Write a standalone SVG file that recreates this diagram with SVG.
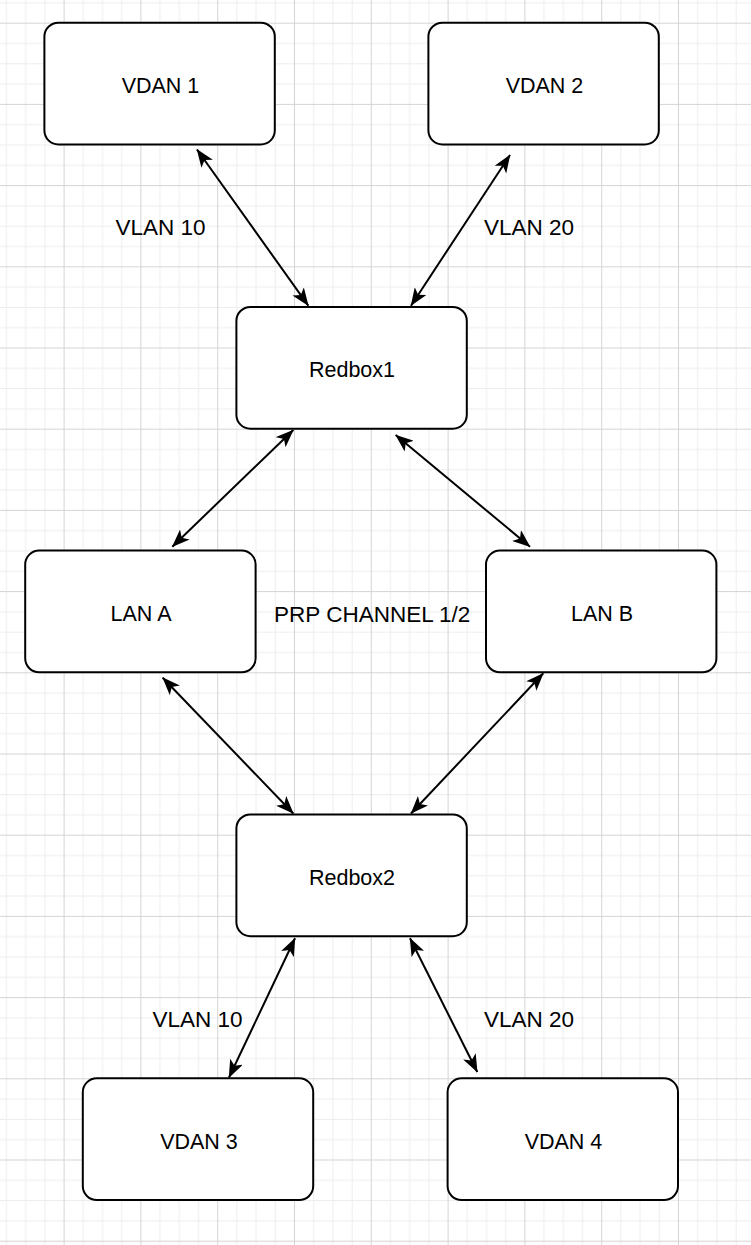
<svg xmlns="http://www.w3.org/2000/svg" width="751" height="1245" viewBox="0 0 751 1245">
  <defs>
    <pattern id="grid" patternUnits="userSpaceOnUse" x="63.6" y="22.7" width="76.8" height="81.2">
      <g stroke="#ededed" stroke-width="1">
        <line x1="19.7" y1="0" x2="19.7" y2="81.2"/>
        <line x1="38.9" y1="0" x2="38.9" y2="81.2"/>
        <line x1="58.1" y1="0" x2="58.1" y2="81.2"/>
        <line x1="0" y1="20.8" x2="76.8" y2="20.8"/>
        <line x1="0" y1="41.1" x2="76.8" y2="41.1"/>
        <line x1="0" y1="61.4" x2="76.8" y2="61.4"/>
      </g>
      <g stroke="#d4d4d4" stroke-width="1">
        <line x1="0.5" y1="0" x2="0.5" y2="81.2"/>
        <line x1="0" y1="0.5" x2="76.8" y2="0.5"/>
      </g>
    </pattern>
    <marker id="arr" viewBox="0 0 18 14" refX="17.5" refY="7" markerWidth="18" markerHeight="14" markerUnits="userSpaceOnUse" orient="auto-start-reverse">
      <path d="M0,0 L18,7 L0,14 L4.5,7 Z" fill="#000"/>
    </marker>
    <style>
      .node rect { fill: #ffffff; stroke: #000000; stroke-width: 2; }
      .node text, .label { font-family: "Liberation Sans", Arial, Helvetica, sans-serif; fill: #000; text-anchor: middle; }
      .node text { font-size: 21.5px; }
      .label { font-size: 22.5px; }
      .edge { stroke: #000; stroke-width: 2; fill: none; marker-start: url(#arr); marker-end: url(#arr); }
    </style>
  </defs>
  <rect x="0" y="0" width="751" height="1245" fill="#ffffff"/>
  <rect x="0" y="0" width="751" height="1245" fill="url(#grid)"/>

  <g id="connectors">
    <line class="edge" x1="197" y1="149.5" x2="308.3" y2="305.7"/>
    <line class="edge" x1="510" y1="155" x2="411" y2="305.7"/>
    <line class="edge" x1="293.3" y1="430" x2="172.3" y2="546.7"/>
    <line class="edge" x1="395.7" y1="435" x2="530" y2="546.7"/>
    <line class="edge" x1="162.7" y1="677.7" x2="293.3" y2="813.5"/>
    <line class="edge" x1="543.3" y1="673.3" x2="411" y2="813.5"/>
    <line class="edge" x1="295" y1="938.3" x2="229" y2="1077.5"/>
    <line class="edge" x1="410" y1="938.3" x2="477.3" y2="1072"/>
  </g>

  <g id="edge-labels">
    <text class="label" x="160.5" y="235">VLAN 10</text>
    <text class="label" x="529" y="235">VLAN 20</text>
    <text class="label" x="372.2" y="621.7">PRP CHANNEL 1/2</text>
    <text class="label" x="197.5" y="1026.7">VLAN 10</text>
    <text class="label" x="529" y="1026.7">VLAN 20</text>
  </g>

  <g id="vdan1" class="node">
    <rect x="44.4" y="22.7" width="230.4" height="121.8" rx="14" ry="14"/>
    <text x="160.5" y="93">VDAN 1</text>
  </g>
  <g id="vdan2" class="node">
    <rect x="428.4" y="22.7" width="230.4" height="121.8" rx="14" ry="14"/>
    <text x="544.5" y="93">VDAN 2</text>
  </g>
  <g id="redbox1" class="node">
    <rect x="236.4" y="306.9" width="230.4" height="121.8" rx="14" ry="14"/>
    <text x="352" y="377.3">Redbox1</text>
  </g>
  <g id="lana" class="node">
    <rect x="25.2" y="550.5" width="230.4" height="121.8" rx="14" ry="14"/>
    <text x="141" y="620.9">LAN A</text>
  </g>
  <g id="lanb" class="node">
    <rect x="486" y="550.5" width="230.4" height="121.8" rx="14" ry="14"/>
    <text x="602" y="620.9">LAN B</text>
  </g>
  <g id="redbox2" class="node">
    <rect x="236.4" y="814.4" width="230.4" height="121.8" rx="14" ry="14"/>
    <text x="352" y="884.8">Redbox2</text>
  </g>
  <g id="vdan3" class="node">
    <rect x="82.8" y="1078.3" width="230.4" height="121.8" rx="14" ry="14"/>
    <text x="199" y="1148.7">VDAN 3</text>
  </g>
  <g id="vdan4" class="node">
    <rect x="447.6" y="1078.3" width="230.4" height="121.8" rx="14" ry="14"/>
    <text x="563.5" y="1148.7">VDAN 4</text>
  </g>
</svg>
